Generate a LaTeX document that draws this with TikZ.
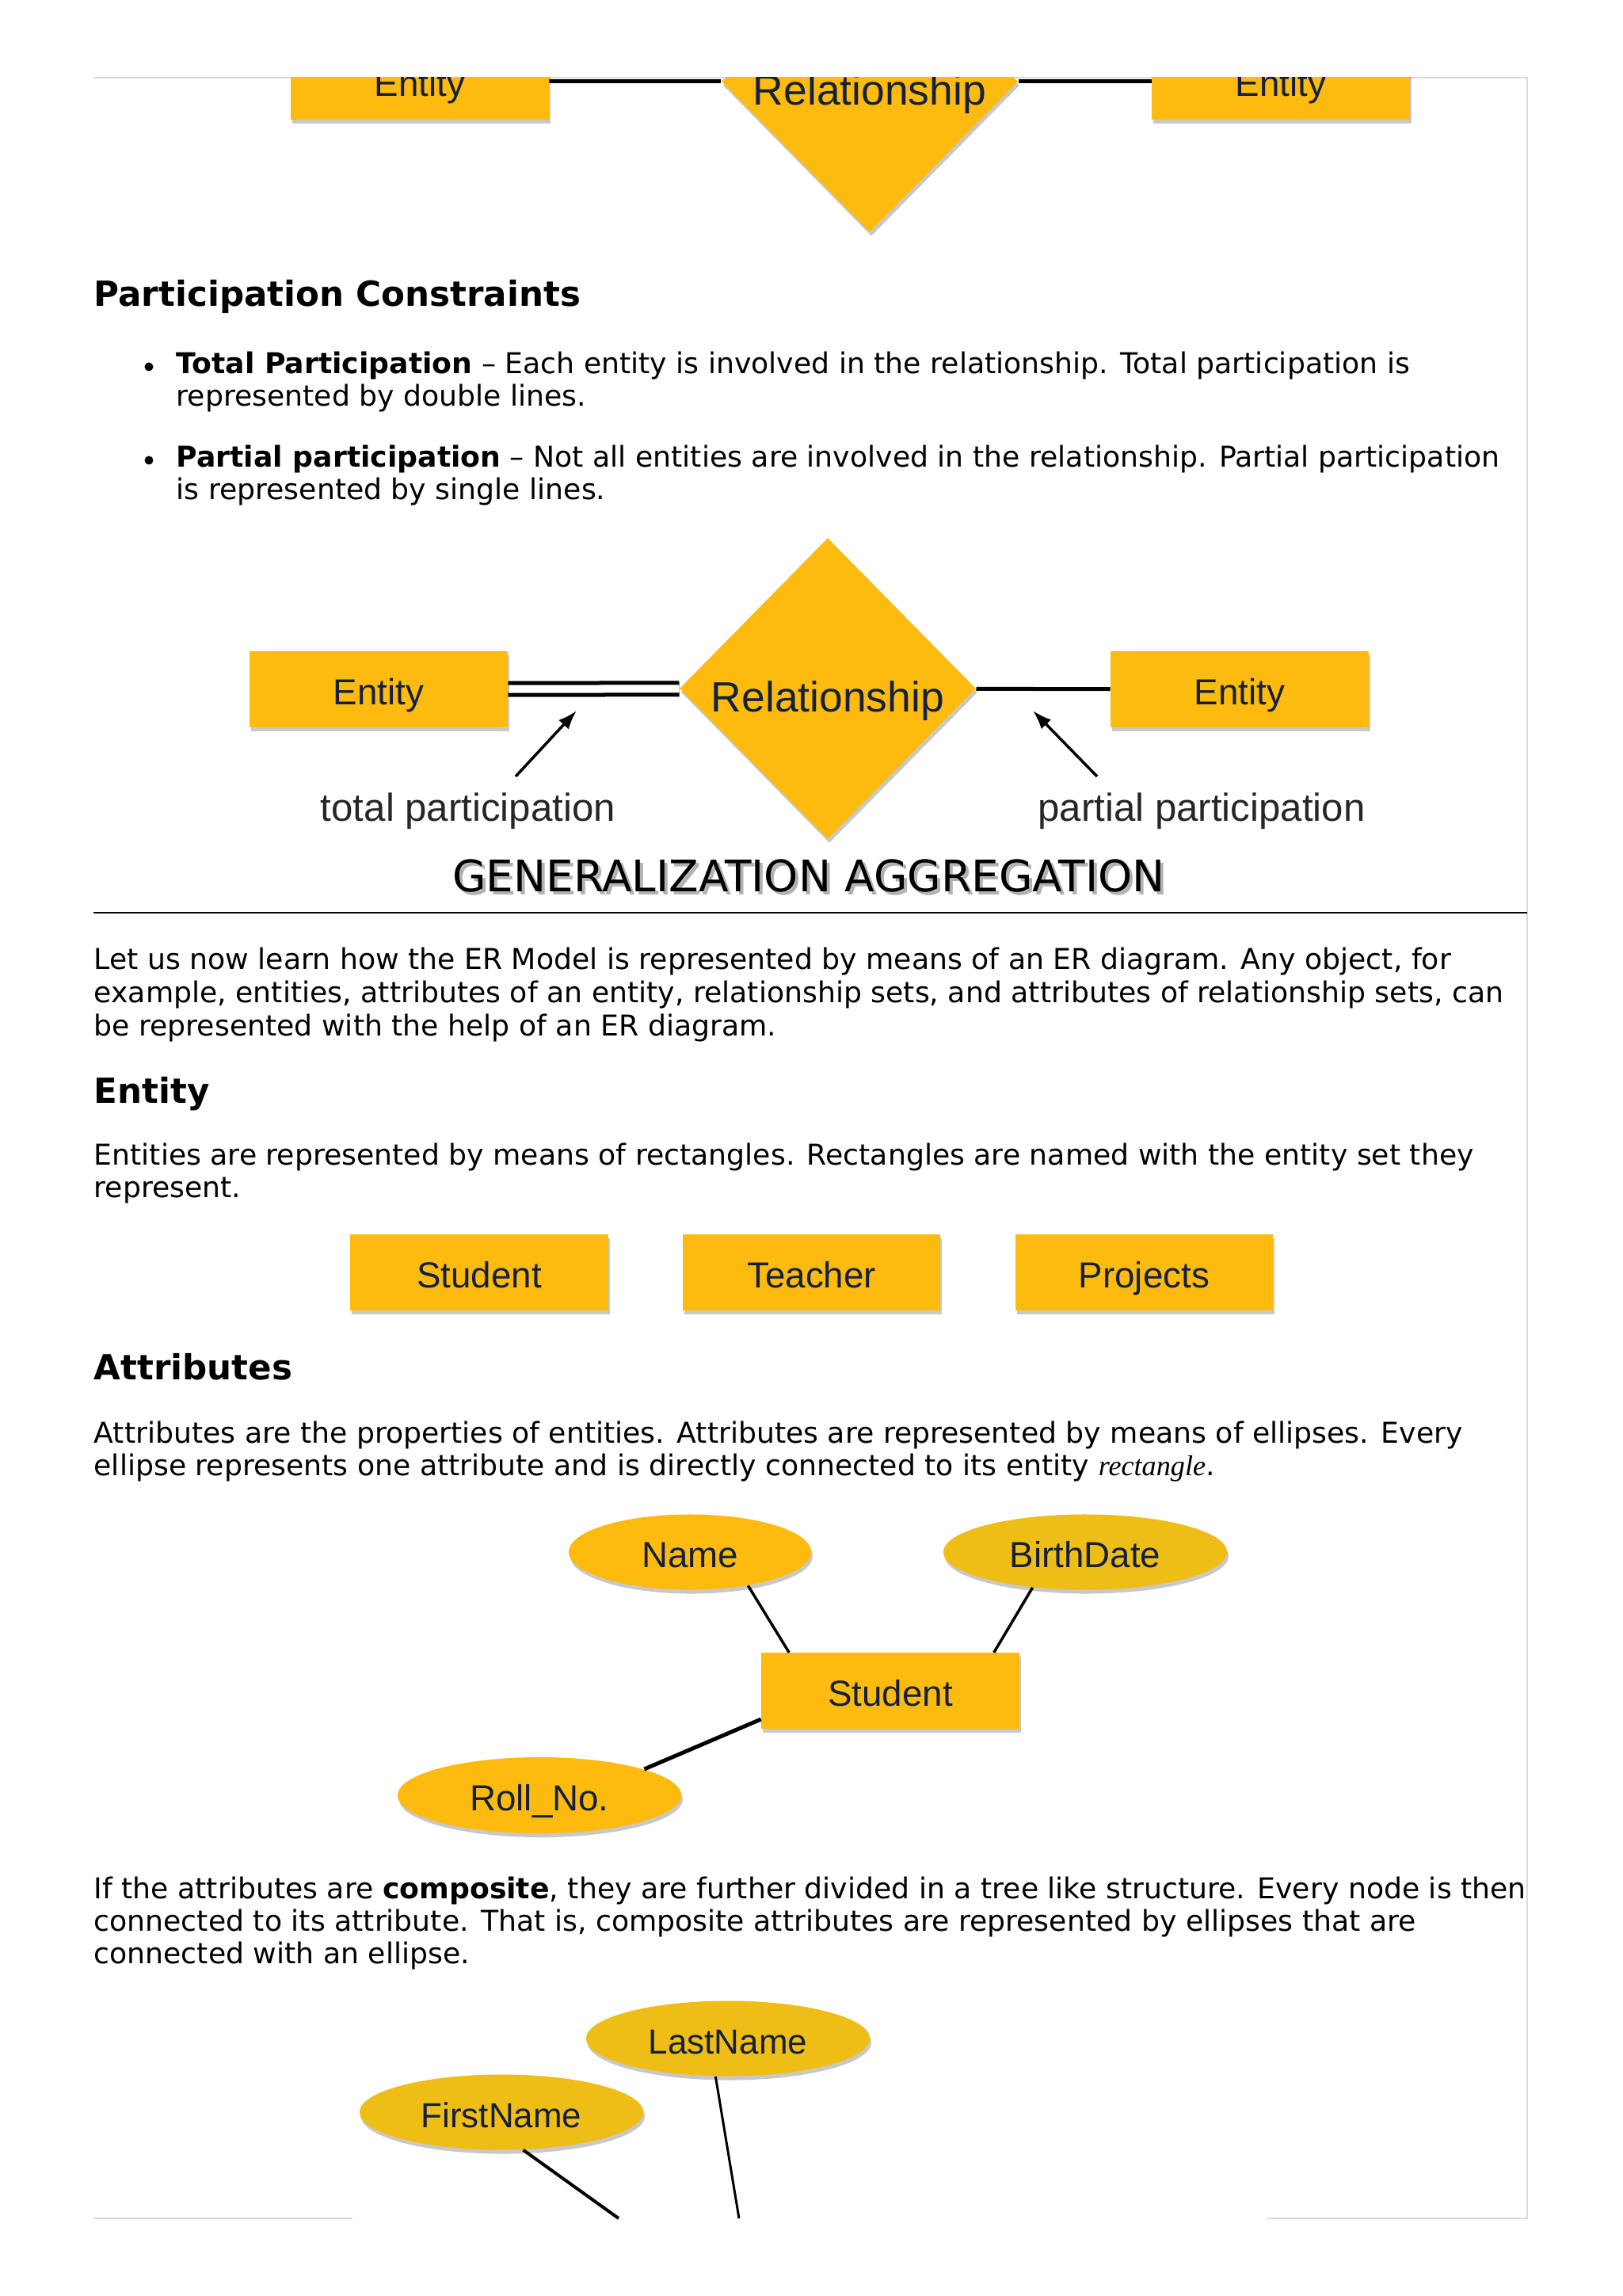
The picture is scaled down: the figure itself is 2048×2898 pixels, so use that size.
\documentclass[tikz,border=0pt]{standalone}
\usepackage{fontspec}
\setmainfont{DejaVu Sans}
\newfontfamily\diafont{Liberation Sans}
\newfontfamily\serifit{Liberation Serif}
\usepackage{xcolor}
\usetikzlibrary{arrows.meta,positioning,shapes.geometric,shadows,backgrounds}

\definecolor{eryellow}{HTML}{FCBB0E}
\definecolor{attryellow}{HTML}{EFBE16}
\definecolor{labelnavy}{HTML}{14203C}
\definecolor{framegrey}{HTML}{DADADA}

\begin{document}
\begin{tikzpicture}[x=0.01cm, y=-0.01cm,
  soft/.style={drop shadow={shadow xshift=0.02cm, shadow yshift=-0.05cm, opacity=0.3, fill=black!70}},
  ent/.style={rectangle, fill=eryellow, soft, minimum width=3.25cm, minimum height=0.95cm,
    inner sep=0pt, text height=0.38cm, text depth=0pt, text=labelnavy,
    font=\diafont\fontsize{13}{15}\selectfont},
  rel/.style={diamond, fill=eryellow, soft, minimum width=3.74cm, minimum height=3.8cm,
    inner sep=0pt, text height=0.58cm, text depth=0pt, text=labelnavy,
    font=\diafont\fontsize{15.2}{17}\selectfont},
  attr/.style={ellipse, fill=attryellow, soft, minimum width=3.58cm, minimum height=0.95cm,
    inner sep=0pt, text height=0.38cm, text depth=0pt, text=labelnavy,
    font=\diafont\fontsize{13}{15}\selectfont},
  lbl/.style={inner sep=0pt, font=\diafont\fontsize{14}{16}\selectfont, text=black!85},
  txt/.style={anchor=base west, inner sep=0pt, font=\fontsize{10.3}{12.4}\selectfont},
  head/.style={anchor=base west, inner sep=0pt, font=\bfseries\fontsize{12.4}{15}\selectfont},
  dot/.style={circle, fill, inner sep=0pt, minimum size=0.11cm},
  link/.style={line width=0.05cm},
  thin link/.style={line width=0.035cm},
  ptr/.style={-{Latex[length=0.24cm,width=0.17cm]}, line width=0.035cm},
  frame/.style={framegrey, line width=0.015cm}
]
  \useasboundingbox (0,0) rectangle (2048,2898);
  \begin{scope}[on background layer]
    \fill[white] (0,0) rectangle (2048,2898);
  \end{scope}

  % page frame
  \draw[frame] (118,98) -- (1928,98) -- (1928,2800) -- (1600,2800);
  \draw[frame] (445,2800) -- (118,2800);

  % cut-off diagram at the top
  \begin{scope}
    \clip (118,98) rectangle (1928,400);
    \node[ent] (topL) at (530,103) {Entity};
    \node[rel] (topRel) at (1098,103) {Relationship};
    \node[ent] (topR) at (1617,103) {Entity};
    \begin{scope}[on background layer]
      \draw[link] (topL) -- (topRel);
      \draw[link] (topRel) -- (topR);
    \end{scope}
  \end{scope}

  \node[head] (pcHead) at (118,387) {Participation Constraints};
  \node[dot] (dot1) at (188,463) {};
  \node[txt] (b1a) at (222,472) {\textbf{Total Participation} – Each entity is involved in the relationship. Total participation is};
  \node[txt] (b1b) at (222,513) {represented by double lines.};
  \node[dot] (dot2) at (188,581) {};
  \node[txt] (b2a) at (222,590) {\textbf{Partial participation} – Not all entities are involved in the relationship. Partial participation};
  \node[txt] (b2b) at (222,631) {is represented by single lines.};

  % total / partial participation
  \node[ent] (midL) at (478,870) {Entity};
  \node[rel] (midRel) at (1045,869) {Relationship};
  \node[ent] (midR) at (1565,870) {Entity};
  \begin{scope}[on background layer]
    \draw[link, double, double distance=0.1cm] (midL) -- (midRel);
    \draw[link] (midRel) -- (midR);
  \end{scope}
  \node[lbl] (totLbl) at (591,1024) {total participation};
  \node[lbl] (parLbl) at (1517,1024) {partial participation};
  \coordinate (totTail) at (651,980);
  \coordinate (totHead) at (728,897);
  \coordinate (parTail) at (1385,980);
  \coordinate (parHead) at (1304,897);
  \draw[ptr] (totTail) -- (totHead);
  \draw[ptr] (parTail) -- (parHead);

  \node[anchor=base, inner sep=0pt, text=black!30, font=\fontsize{15.6}{18}\selectfont]
    (gaShadow) at (1025,1129) {GENERALIZATION AGGREGATION};
  \node[anchor=base, inner sep=0pt, font=\fontsize{15.6}{18}\selectfont]
    (ga) at (1021,1125) {GENERALIZATION AGGREGATION};
  \draw[line width=0.028cm] (118,1152) -- (1928,1152);

  \node[txt] (p1a) at (118,1223) {Let us now learn how the ER Model is represented by means of an ER diagram. Any object, for};
  \node[txt] (p1b) at (118,1265) {example, entities, attributes of an entity, relationship sets, and attributes of relationship sets, can};
  \node[txt] (p1c) at (118,1307) {be represented with the help of an ER diagram.};

  \node[head] (entHead) at (118,1392) {Entity};
  \node[txt] (p2a) at (118,1470) {Entities are represented by means of rectangles. Rectangles are named with the entity set they};
  \node[txt] (p2b) at (118,1511) {represent.};

  \node[ent] (stu) at (605,1606) {Student};
  \node[ent, right=0.93cm of stu] (tea) {Teacher};
  \node[ent, right=0.93cm of tea] (proj) {Projects};

  \node[head] (attHead) at (118,1741) {Attributes};
  \node[txt] (p3a) at (118,1821) {Attributes are the properties of entities. Attributes are represented by means of ellipses. Every};
  \node[txt] (p3b) at (118,1862) {ellipse represents one attribute and is directly connected to its entity {\serifit\itshape\fontsize{10.3}{12}\selectfont rectangle}.};

  % attributes of Student
  \node[ent] (aStud) at (1124,2134) {Student};
  \node[attr, fill=eryellow, minimum width=3.06cm] (aName) at (871,1959) {Name};
  \node[attr] (aBirth) at (1370,1959) {BirthDate};
  \node[attr, fill=eryellow, minimum height=0.96cm] (aRoll) at (681,2266) {Roll\_No.};
  \draw[thin link] (aName.-30) -- ([xshift=0.355cm]aStud.north west);
  \draw[thin link] (aBirth.-146) -- ([xshift=-0.325cm]aStud.north east);
  \draw[link] (aRoll.14) -- ([yshift=-0.36cm]aStud.west);

  \node[txt] (p4a) at (118,2396) {If the attributes are \textbf{composite}, they are further divided in a tree like structure. Every node is then};
  \node[txt] (p4b) at (118,2437) {connected to its attribute. That is, composite attributes are represented by ellipses that are};
  \node[txt] (p4c) at (118,2478) {connected with an ellipse.};

  % composite attribute (cut off by the page end)
  \node[attr, font=\diafont\fontsize{12.5}{15}\selectfont] (cLast) at (919,2573) {LastName};
  \node[attr, font=\diafont\fontsize{12.5}{15}\selectfont] (cFirst) at (633,2666) {FirstName};
  \coordinate (cLastEnd) at (933,2800);
  \coordinate (cFirstEnd) at (781,2800);
  \draw[line width=0.03cm] (cLast.-108) -- (cLastEnd);
  \draw[line width=0.04cm] (cFirst.-60) -- (cFirstEnd);
\end{tikzpicture}
\end{document}
